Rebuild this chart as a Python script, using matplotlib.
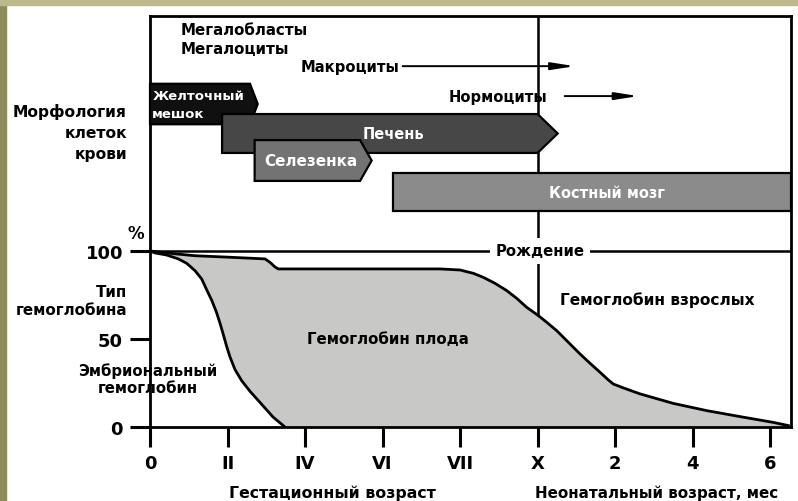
import numpy as np
import matplotlib
matplotlib.use("Agg")
import matplotlib.pyplot as plt
from matplotlib.patches import Polygon, Rectangle

plt.rcParams['font.family'] = ['DejaVu Sans']
plt.rcParams['font.weight'] = 'bold'

# x positions: 0, II, IV, VI, VII, X (gestation months) then 2, 4, 6 (neonatal months)
tick_pos = [0, 1, 2, 3, 4, 5, 6, 7, 8]
tick_labels = ['0', 'II', 'IV', 'VI', 'VII', 'X', '2', '4', '6']
birth_x = 5

# embryonic / fetal boundary (%)
emb_x = [0, 0.065, 0.215, 0.366, 0.473, 0.581, 0.667, 0.731, 0.796, 0.855, 0.903,
         0.946, 0.989, 1.032, 1.097, 1.183, 1.290, 1.398, 1.505, 1.591, 1.720, 1.74]
emb_y = [100, 98.9, 97.7, 95.5, 93.0, 88.8, 84.1, 78.0, 72.0, 65.5, 59.0,
         52.5, 45.8, 39.8, 32.6, 26.3, 20.3, 15.0, 9.7, 5.5, 0.8, 0]

# fetal / adult boundary (%)
fetal_x = [0, 0.3, 0.581, 1.0, 1.484, 1.55, 1.61, 1.656, 2.5, 3.742, 4.0, 4.172,
           4.301, 4.452, 4.602, 4.731, 4.860, 5.010, 5.118, 5.248, 5.398, 5.548,
           5.677, 5.806, 5.914, 5.978, 6.108, 6.323, 6.752, 7.183, 7.613, 8.043, 8.236]
fetal_y = [100, 98.5, 97.3, 96.5, 95.5, 93.5, 91.0, 89.8, 89.8, 89.8, 89.2, 87.3,
           85.0, 81.6, 77.5, 73.1, 68.0, 63.3, 59.5, 54.7, 48.1, 41.5,
           36.2, 31.1, 26.7, 24.4, 22.2, 18.8, 13.4, 9.3, 5.9, 2.6, 0.8]

# blood-forming organs (upper panel)
organ_names = ['Печень', 'Желточный\nмешок', 'Селезенка', 'Костный мозг']
organ_start = [0.93, 0.0, 1.35, 3.13]
organ_end = [5.0, 1.29, 2.71, 8.27]
organ_tip = [0.26, 0.10, 0.15, 0.0]
organ_low = [155.7, 172, 139.8, 122.7]
organ_high = [177.8, 195, 163, 144.3]
organ_colors = ['#474747', '#101010', '#737373', '#8b8b8b']
organ_z = [4, 3, 5, 5]
organ_text_x = [3.14, 0.03, 2.08, 5.9]
organ_text_ha = ['center', 'left', 'center', 'center']
organ_text_size = [10.5, 9.5, 11, 10.5]

xmax = 8.27
ymax = 233.5

fig = plt.figure(figsize=(7.98, 5.02), dpi=100)
ax = fig.add_axes([150 / 798, 74 / 502, 641 / 798, 411 / 502])
ax.set_xlim(0, xmax)
ax.set_ylim(0, ymax)

# frame of the slide
fig.patches.append(Rectangle((0, 0), 6 / 798, 1, transform=fig.transFigure,
                             color='#8f8c5b', zorder=0))
fig.patches.append(Rectangle((0, 1 - 6 / 502), 1, 6 / 502, transform=fig.transFigure,
                             color='#bdb98c', zorder=0))

# fetal haemoglobin area
poly_x = fetal_x + [xmax, xmax] + emb_x[::-1]
poly_y = fetal_y + [0, 0] + emb_y[::-1]
ax.fill(poly_x, poly_y, color='#c8c8c6', lw=0, zorder=1)
ax.plot(emb_x, emb_y, color='black', lw=2.0, zorder=3, solid_joinstyle='round')
ax.plot(fetal_x, fetal_y, color='black', lw=2.0, zorder=3, solid_joinstyle='round')

ax.axhline(100, color='black', lw=1.8, zorder=2)
ax.plot([birth_x, birth_x], [np.interp(birth_x, fetal_x, fetal_y), ymax],
        color='black', lw=1.8, zorder=2)
ax.text(birth_x + 0.03, 100, 'Рождение', ha='center', va='center', fontsize=10.7,
        zorder=6, bbox=dict(facecolor='white', edgecolor='none', pad=4))

# organ arrows
for name, s, e, t, lo, hi, c, z, tx, ha, fs in zip(
        organ_names, organ_start, organ_end, organ_tip, organ_low, organ_high,
        organ_colors, organ_z, organ_text_x, organ_text_ha, organ_text_size):
    mid = (lo + hi) / 2
    pts = [(s, lo), (e, lo), (e + t, mid), (e, hi), (s, hi)]
    ax.add_patch(Polygon(pts, closed=True, facecolor=c, edgecolor='black',
                         lw=1.6, zorder=z, clip_on=False))
    if '\n' in name:
        ax.text(tx, 188.6, name.split('\n')[0], color='white', fontsize=fs,
                ha=ha, va='center', zorder=z + 1)
        ax.text(tx, 178.0, name.split('\n')[1], color='white', fontsize=fs,
                ha=ha, va='center', zorder=z + 1)
    else:
        ax.text(tx, mid, name, color='white', fontsize=fs, ha=ha,
                va='center', zorder=z + 1)

# cell morphology labels
ax.text(0.39, 225.6, 'Мегалобласты', fontsize=10.8, va='center')
ax.text(0.39, 215.3, 'Мегалоциты', fontsize=10.8, va='center')
ax.text(1.94, 205, 'Макроциты', fontsize=10.6, va='center')
ax.text(3.85, 188, 'Нормоциты', fontsize=10.6, va='center')
arrow_style = dict(arrowstyle='-|>,head_length=1.4,head_width=0.22', lw=1.4,
                   color='black', shrinkA=0, shrinkB=0)
ax.annotate('', xy=(5.48, 205), xytext=(3.26, 205), arrowprops=arrow_style)
ax.annotate('', xy=(6.3, 188), xytext=(5.35, 188), arrowprops=arrow_style)

# left side labels
for i, line in enumerate(['Морфология', 'клеток', 'крови']):
    ax.text(-0.297, 179.5 - 12.2 * i, line, fontsize=11.2, ha='right', va='center')
ax.text(-0.18, 110.5, '%', fontsize=12, ha='center', va='center')
ax.text(-0.297, 77, 'Тип', fontsize=10.9, ha='right', va='center')
ax.text(-0.297, 66.5, 'гемоглобина', fontsize=10.9, ha='right', va='center')
ax.text(-0.03, 32.4, 'Эмбриональный', fontsize=10.7, ha='center', va='center')
ax.text(-0.03, 22.2, 'гемоглобин', fontsize=10.7, ha='center', va='center')

ax.text(3.07, 50, 'Гемоглобин плода', fontsize=10.8, ha='center', va='center', zorder=6)
ax.text(6.54, 72.7, 'Гемоглобин взрослых', fontsize=11.1, ha='center', va='center')

ax.text(2.35, -37, 'Гестационный возраст', fontsize=11.3, ha='center', va='center')
ax.text(6.54, -37, 'Неонатальный возраст, мес', fontsize=10.9, ha='center', va='center')

# axes styling
for sp in ax.spines.values():
    sp.set_linewidth(2.0)
ax.set_xticks(tick_pos)
ax.set_xticklabels(tick_labels, fontsize=13, fontweight='bold')
ax.set_yticks([0, 50, 100])
ax.set_yticklabels(['0', '50', '100'], fontsize=13, fontweight='bold')
ax.tick_params(axis='both', direction='out', length=14.4, width=2.2, pad=5)

fig.savefig('out.png', dpi=100)
